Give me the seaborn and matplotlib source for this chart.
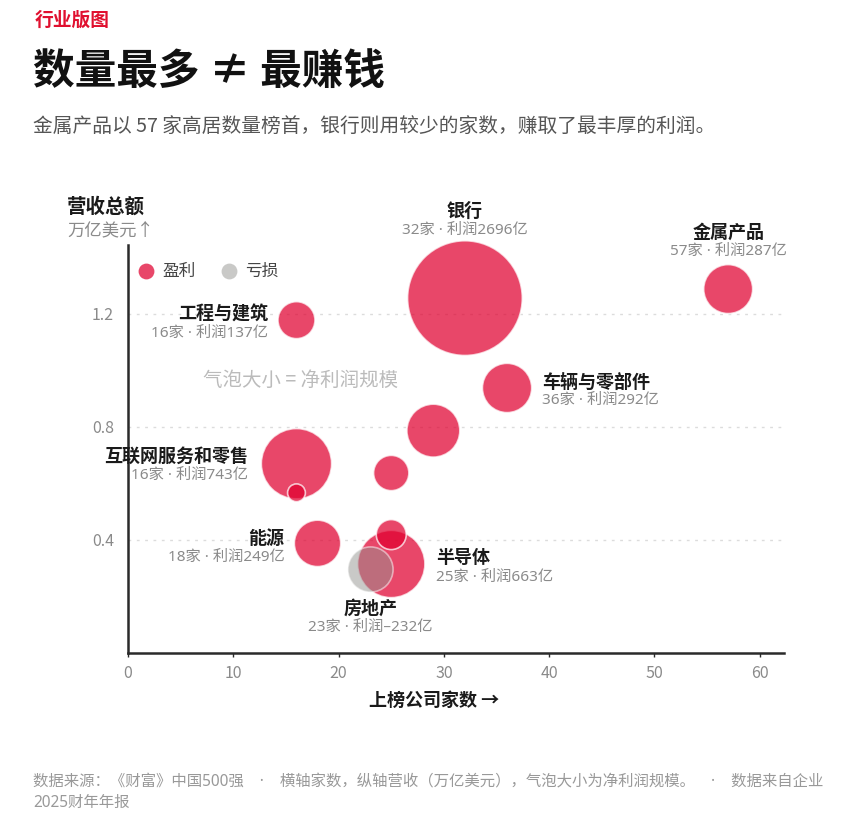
import numpy as np
import pandas as pd
import matplotlib
matplotlib.use('Agg')
import matplotlib.pyplot as plt
import seaborn as sns

# Industry data (unlabelled bubbles have an empty name)
industries = ['金属产品', '银行', '车辆与零部件', '工程与建筑', '', '互联网服务和零售',
              '', '', '', '能源', '半导体', '房地产']
company_counts = [57, 32, 36, 16, 29, 16, 16, 25, 25, 18, 25, 23]
revenue = [1.288, 1.256, 0.938, 1.178, 0.787, 0.670, 0.567, 0.637, 0.419, 0.388, 0.315, 0.297]
profit = [287, 2696, 292, 137, 352, 743, 20, 121, 79, 249, 663, -232]

x_ticks = [0, 10, 20, 30, 40, 50, 60]
y_ticks = [0.4, 0.8, 1.2]

RED = '#E0002F'
GRAY = '#949490'
DARK = '#1a1a1a'
MUTED = '#8a8a8a'
LATIN_FIRST = ['Noto Sans', 'Noto Sans CJK SC', 'DejaVu Sans']

sns.set_theme(style='white')
plt.rcParams['font.family'] = ['Noto Sans CJK SC', 'DejaVu Sans']
plt.rcParams['axes.unicode_minus'] = False

df = pd.DataFrame({'industry': industries, 'count': company_counts,
                   'revenue': revenue, 'profit': profit})
df['status'] = np.where(df['profit'] >= 0, '盈利', '亏损')
# bubble radius (px) grows with profit^0.38; area in points^2
df['area'] = (2 * 2.85 * df['profit'].abs() ** 0.38 * 0.72) ** 2
df = df.sort_values('area', ascending=False)

fig = plt.figure(figsize=(8.43, 8.27), dpi=100)
ax = fig.add_axes([128 / 843, 1 - 653 / 827, 656 / 843, 408 / 827])

smin, smax = df['area'].min(), df['area'].max()
common = dict(x='count', y='revenue', hue='status', size='area',
              sizes=(smin, smax), size_norm=(smin, smax),
              palette={'盈利': RED, '亏损': GRAY}, edgecolor='white',
              linewidth=1.2, legend=False, ax=ax, clip_on=False, zorder=3)
sns.scatterplot(data=df[df['status'] == '盈利'], alpha=0.72, **common)
sns.scatterplot(data=df[df['status'] == '亏损'], alpha=0.5, **common)

ax.set_xlim(0, 62.3)
ax.set_ylim(0, 1.444)
ax.set_xticks(x_ticks)
ax.set_yticks(y_ticks)
ax.set_yticklabels([f'{v:.1f}' for v in y_ticks])
ax.set_xlabel('')
ax.set_ylabel('')
ax.set_axisbelow(True)
ax.yaxis.grid(True, color='#dcdcdc', linestyle=(0, (2, 4)), linewidth=1)
ax.xaxis.grid(False)
for side in ['top', 'right']:
    ax.spines[side].set_visible(False)
for side in ['left', 'bottom']:
    ax.spines[side].set_color('#2a2a2a')
    ax.spines[side].set_linewidth(1.8)
ax.tick_params(axis='x', bottom=True, length=3, width=1, color='#2a2a2a',
               labelcolor=MUTED, labelsize=11.5, pad=6)
ax.tick_params(axis='y', left=False, length=0, labelcolor=MUTED, labelsize=11.5, pad=10)

# bubble labels: (dx, dy, ha) in pixels from bubble centre
label_pos = {
    '银行': (0, 87, 'center'),
    '金属产品': (0, 57, 'center'),
    '工程与建筑': (-28, 6, 'right'),
    '车辆与零部件': (35, 6, 'left'),
    '互联网服务和零售': (-48, 7, 'right'),
    '能源': (-33, 5, 'right'),
    '半导体': (45, 6, 'left'),
    '房地产': (0, -39, 'center'),
}
for _, row in df.iterrows():
    if not row['industry']:
        continue
    dx, dy, ha = label_pos[row['industry']]
    ax.annotate(row['industry'], (row['count'], row['revenue']), xytext=(dx, dy),
                textcoords='offset pixels', ha=ha, va='center', fontsize=13,
                fontweight='bold', color=DARK, annotation_clip=False, zorder=5)
    sub = f"{row['count']}家 · 利润{row['profit']}亿".replace('-', '–')
    ax.annotate(sub, (row['count'], row['revenue']), xytext=(dx, dy - 19),
                textcoords='offset pixels', ha=ha, va='center', fontsize=11,
                color=MUTED, family=LATIN_FIRST, annotation_clip=False, zorder=5)

# legend
ax.scatter([0.0274], [0.936], s=130, color=RED, alpha=0.72, transform=ax.transAxes,
           clip_on=False, linewidths=0)
ax.scatter([0.154], [0.936], s=130, color=GRAY, alpha=0.5, transform=ax.transAxes,
           clip_on=False, linewidths=0)
ax.text(0.052, 0.936, '盈利', transform=ax.transAxes, va='center', fontsize=12, color='#444444')
ax.text(0.178, 0.936, '亏损', transform=ax.transAxes, va='center', fontsize=12, color='#444444')
ax.text(0.114, 0.669, '气泡大小 = 净利润规模', transform=ax.transAxes, va='center',
        fontsize=14, color='#bbbbbb')

# header texts
fig.text(35 / 843, 1 - 20 / 827, '行业版图', fontsize=13.5, fontweight='bold',
         color='#E0102F', va='center')
fig.text(33 / 843, 1 - 72 / 827, '数量最多 ≠ 最赚钱', fontsize=30, fontweight='black',
         color='#111111', va='center')
fig.text(33 / 843, 1 - 127 / 827,
         '金属产品以 57 家高居数量榜首，银行则用较少的家数，赚取了最丰厚的利润。',
         fontsize=14.2, color='#555555', va='center')
fig.text(67 / 843, 1 - 207 / 827, '营收总额', fontsize=14, fontweight='bold',
         color=DARK, va='center')
fig.text(67 / 843, 1 - 230 / 827, '万亿美元↑', fontsize=12.5, color=MUTED, va='center')
fig.text(434 / 843, 1 - 700 / 827, '上榜公司家数 →', fontsize=13, fontweight='bold',
         color=DARK, ha='center', va='center')
fig.text(33 / 843, 1 - 782 / 827,
         '数据来源：《财富》中国500强    ·    横轴家数，纵轴营收（万亿美元），气泡大小为净利润规模。    ·    数据来自企业',
         fontsize=11.1, color='#999999', va='center', family=LATIN_FIRST)
fig.text(33 / 843, 1 - 803 / 827, '2025财年年报', fontsize=11.1, color='#999999', va='center',
         family=LATIN_FIRST)

fig.savefig('out.png', dpi=100)
